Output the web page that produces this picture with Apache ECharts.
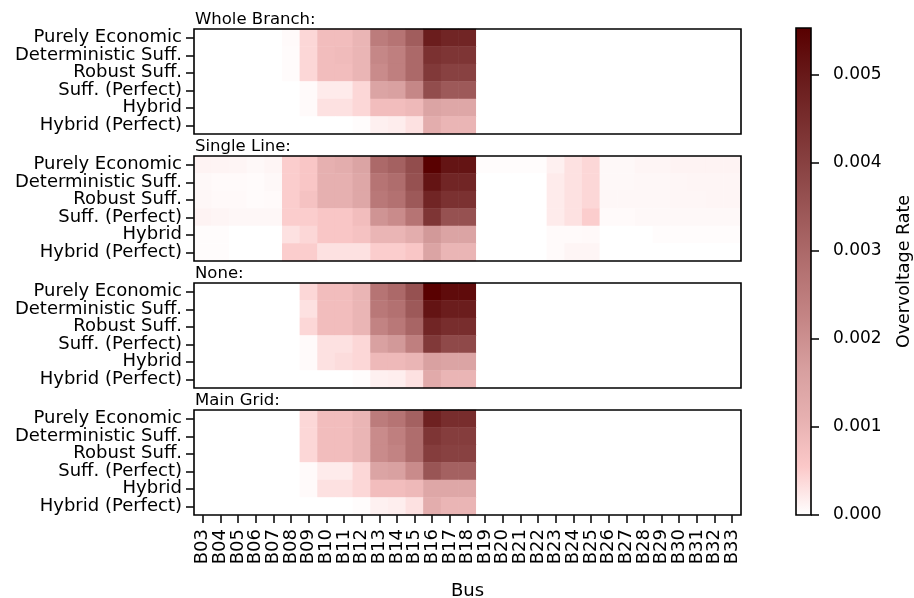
<!DOCTYPE html>
<html lang="en">
<head>
<meta charset="utf-8" />
<style>
  html, body { margin: 0; padding: 0; background: #fff; overflow: hidden; }
  .box { width: 914px; height: 598px; }
</style>
</head>
<body>
<div class="box"></div>
<script src="https://cdn.jsdelivr.net/npm/echarts@6/dist/echarts.min.js"></script>
<script>
// buses on the x axis
var buses = ['B03','B04','B05','B06','B07','B08','B09','B10','B11','B12','B13','B14','B15','B16','B17','B18',
  'B19','B20','B21','B22','B23','B24','B25','B26','B27','B28','B29','B30','B31','B32','B33'];
// strategies on the y axis (top to bottom)
var strategies = ['Purely Economic','Deterministic Suff.','Robust Suff.','Suff. (Perfect)','Hybrid','Hybrid (Perfect)'];
var panelTitles = ['Whole Branch:','Single Line:','None:','Main Grid:'];
var cbTicks = [0, 0.001, 0.002, 0.003, 0.004, 0.005];

// overvoltage rates, unit 1e-4 (one row per strategy, one value per bus)
var wholeBranch = [
  [0,0,0,0,0, 0.5,4,8,8,10, 25,27,33, 49,47,47, 0,0,0,0,0,0,0,0,0,0,0,0,0,0,0],
  [0,0,0,0,0, 0.4,4,8,8.5,10, 22,24,30, 44,43,43, 0,0,0,0,0,0,0,0,0,0,0,0,0,0,0],
  [0,0,0,0,0, 0.4,4,8,8,10, 21,24,30, 42,40,40, 0,0,0,0,0,0,0,0,0,0,0,0,0,0,0],
  [0,0,0,0,0, 0,0.5,2,2,4, 15,16,22, 37,34,34, 0,0,0,0,0,0,0,0,0,0,0,0,0,0,0],
  [0,0,0,0,0, 0,0.5,3,3,4, 8,8,9, 15,14,14, 0,0,0,0,0,0,0,0,0,0,0,0,0,0,0],
  [0,0,0,0,0, 0,0,0,0,0.3, 1.5,1.8,3, 12,10,10, 0,0,0,0,0,0,0,0,0,0,0,0,0,0,0]
];
var singleLine = [
  [1.2,1.1,1,0.7,1, 5,6,11,12,15, 30,32,37, 55,51,51, 0.3,0.3,0.3,0.3, 1.5,3,4, 0.7,0.7,1,1,1.2,1.2,1.2,1.2],
  [0.7,0.5,0.5,0.4,0.7, 5,6,11,11,14, 27,29,36, 51,47,47, 0,0,0,0, 2,3,4, 0.7,0.7,0.8,0.8,0.9,1,1,1],
  [0.8,0.6,0.6,0.4,0.5, 5,7,11,11,14, 26,28,34, 47,44,44, 0,0,0,0, 2,3,4, 0.8,0.8,0.8,0.8,0.9,0.9,1,1],
  [1.2,1,0.8,0.8,0.8, 5,5,6,6,8, 19,21,27, 43,36,36, 0,0,0,0, 2,3,5, 0.5,0.5,0.7,0.7,0.7,0.7,0.7,0.7],
  [0.3,0.3,0,0,0, 3,4,6,6,7, 10,10,12, 18,15,15, 0,0,0,0, 0.5,0.5,0.6, 0,0,0,0.3,0.3,0.3,0.3,0.3],
  [0.3,0.3,0,0,0, 5,5,3,3,3, 5,5,6, 15,10,10, 0,0,0,0, 0.5,1,1, 0,0,0,0,0,0,0,0]
];
var noneCase = [
  [0,0,0,0,0,0, 4,8,8,10, 27,30,36, 55,53,53, 0,0,0,0,0,0,0,0,0,0,0,0,0,0,0],
  [0,0,0,0,0,0, 3,8,8,10, 26,28,34, 51,49,49, 0,0,0,0,0,0,0,0,0,0,0,0,0,0,0],
  [0,0,0,0,0,0, 4,8,8,10, 23,26,31, 47,45,45, 0,0,0,0,0,0,0,0,0,0,0,0,0,0,0],
  [0,0,0,0,0,0, 0.5,3,3,4, 16,18,24, 42,38,38, 0,0,0,0,0,0,0,0,0,0,0,0,0,0,0],
  [0,0,0,0,0,0, 0.5,3,3.5,4, 9,9,10, 16,15,15, 0,0,0,0,0,0,0,0,0,0,0,0,0,0,0],
  [0,0,0,0,0,0, 0,0,0,0.3, 1.5,1.7,3, 13,10,10, 0,0,0,0,0,0,0,0,0,0,0,0,0,0,0]
];
var mainGrid = [
  [0,0,0,0,0,0, 4,8,8,10, 25,27,32, 48,45,45, 0,0,0,0,0,0,0,0,0,0,0,0,0,0,0],
  [0,0,0,0,0,0, 4,8,8,10, 21,24,29, 43,41,41, 0,0,0,0,0,0,0,0,0,0,0,0,0,0,0],
  [0,0,0,0,0,0, 4,8,8,10, 21,23,29, 41,40,40, 0,0,0,0,0,0,0,0,0,0,0,0,0,0,0],
  [0,0,0,0,0,0, 0.5,2,2,4, 15,16,21, 35,32,32, 0,0,0,0,0,0,0,0,0,0,0,0,0,0,0],
  [0,0,0,0,0,0, 0.5,3,3,4, 8,8,9, 14,14,14, 0,0,0,0,0,0,0,0,0,0,0,0,0,0,0],
  [0,0,0,0,0,0, 0,0,0,0.3, 1.4,1.7,3, 12,10,10, 0,0,0,0,0,0,0,0,0,0,0,0,0,0,0]
];
var panels = [wholeBranch, singleLine, noneCase, mainGrid];
var vmax = 0.00553;

// colormap, evenly spaced from 0 to vmax
var cmap = ['#ffffff','#fbc8c8','#e6b0b0','#d79f9f','#c58686','#b47272','#a05c5c','#8c4646','#7a3030','#681a1a','#580000'];

var myChart = echarts.init(document.querySelector('.box'), null, { renderer: 'canvas' });

var FONT = 'DejaVu Sans';
var FS = 18;   // tick labels
var panelTop = [29, 156, 283, 410];
var panelH = 105;

var grids = [], xAxes = [], yAxes = [], series = [], titles = [];
panels.forEach(function (rows, p) {
  grids.push({ left: 194, width: 547, top: panelTop[p], height: panelH, show: true,
    borderColor: '#000', borderWidth: 1.6, backgroundColor: 'transparent', z: 10,
    outerBoundsMode: 'none', containLabel: false });
  var last = p === panels.length - 1;
  xAxes.push({
    type: 'category', gridIndex: p, data: buses,
    axisLine: { show: false },
    axisTick: { show: last, alignWithLabel: true, length: 8, lineStyle: { color: '#000', width: 1.5 } },
    axisLabel: { show: last, rotate: 90, interval: 0, hideOverlap: false, margin: 14,
      color: '#000', fontSize: FS, fontFamily: FONT },
    name: last ? 'Bus' : '', nameLocation: 'middle', nameGap: 67,
    nameTextStyle: { color: '#000', fontSize: 18, fontFamily: FONT },
    splitLine: { show: false }
  });
  yAxes.push({
    type: 'category', gridIndex: p, data: strategies, inverse: true,
    axisLine: { show: false },
    axisTick: { show: true, alignWithLabel: true, length: 8, lineStyle: { color: '#000', width: 1.5 } },
    axisLabel: { interval: 0, hideOverlap: false, margin: 12, color: '#000', fontSize: FS, fontFamily: FONT },
    splitLine: { show: false }
  });
  var data = [];
  rows.forEach(function (r, yi) {
    r.forEach(function (v, xi) { data.push([xi, yi, v * 1e-4]); });
  });
  series.push({ type: 'heatmap', xAxisIndex: p, yAxisIndex: p, data: data,
    emphasis: { disabled: true }, progressive: 0, itemStyle: { borderWidth: 0 } });
  titles.push({ text: panelTitles[p], left: 195, top: panelTop[p] - 18, padding: 0,
    textStyle: { color: '#000', fontSize: 16.5, fontWeight: 'normal', fontFamily: FONT } });
});

// colorbar as a fifth grid
grids.push({ left: 796, width: 15, top: 28, height: 487, show: true,
  borderColor: '#000', borderWidth: 1.6, backgroundColor: 'transparent', z: 10,
  outerBoundsMode: 'none', containLabel: false });
xAxes.push({ type: 'category', gridIndex: 4, data: ['cb'], show: false });
yAxes.push({
  type: 'value', gridIndex: 4, position: 'right', min: 0, max: vmax, interval: 0.001,
  axisLine: { show: false },
  axisTick: { show: true, length: 8, customValues: cbTicks, lineStyle: { color: '#000', width: 1.5 } },
  axisLabel: { margin: 22, color: '#000', fontSize: 17, fontFamily: FONT, customValues: cbTicks,
    formatter: function (v) { return v.toFixed(3); } },
  splitLine: { show: false },
  name: 'Overvoltage Rate', nameLocation: 'middle', nameRotate: 90, nameGap: 84,
  nameTextStyle: { color: '#000', fontSize: 17.5, fontFamily: FONT }
});
series.push({
  type: 'bar', xAxisIndex: 4, yAxisIndex: 4, data: [vmax], barWidth: '100%', silent: true,
  itemStyle: { color: new echarts.graphic.LinearGradient(0, 1, 0, 0,
    cmap.map(function (c, i) { return { offset: i / (cmap.length - 1), color: c }; })) }
});

var option = {
  backgroundColor: '#fff',
  animation: false,
  title: titles,
  grid: grids,
  xAxis: xAxes,
  yAxis: yAxes,
  visualMap: {
    type: 'continuous', show: false, min: 0, max: vmax, seriesIndex: [0, 1, 2, 3],
    inRange: { color: cmap }
  },
  series: series
};

myChart.setOption(option);
</script>
</body>
</html>
